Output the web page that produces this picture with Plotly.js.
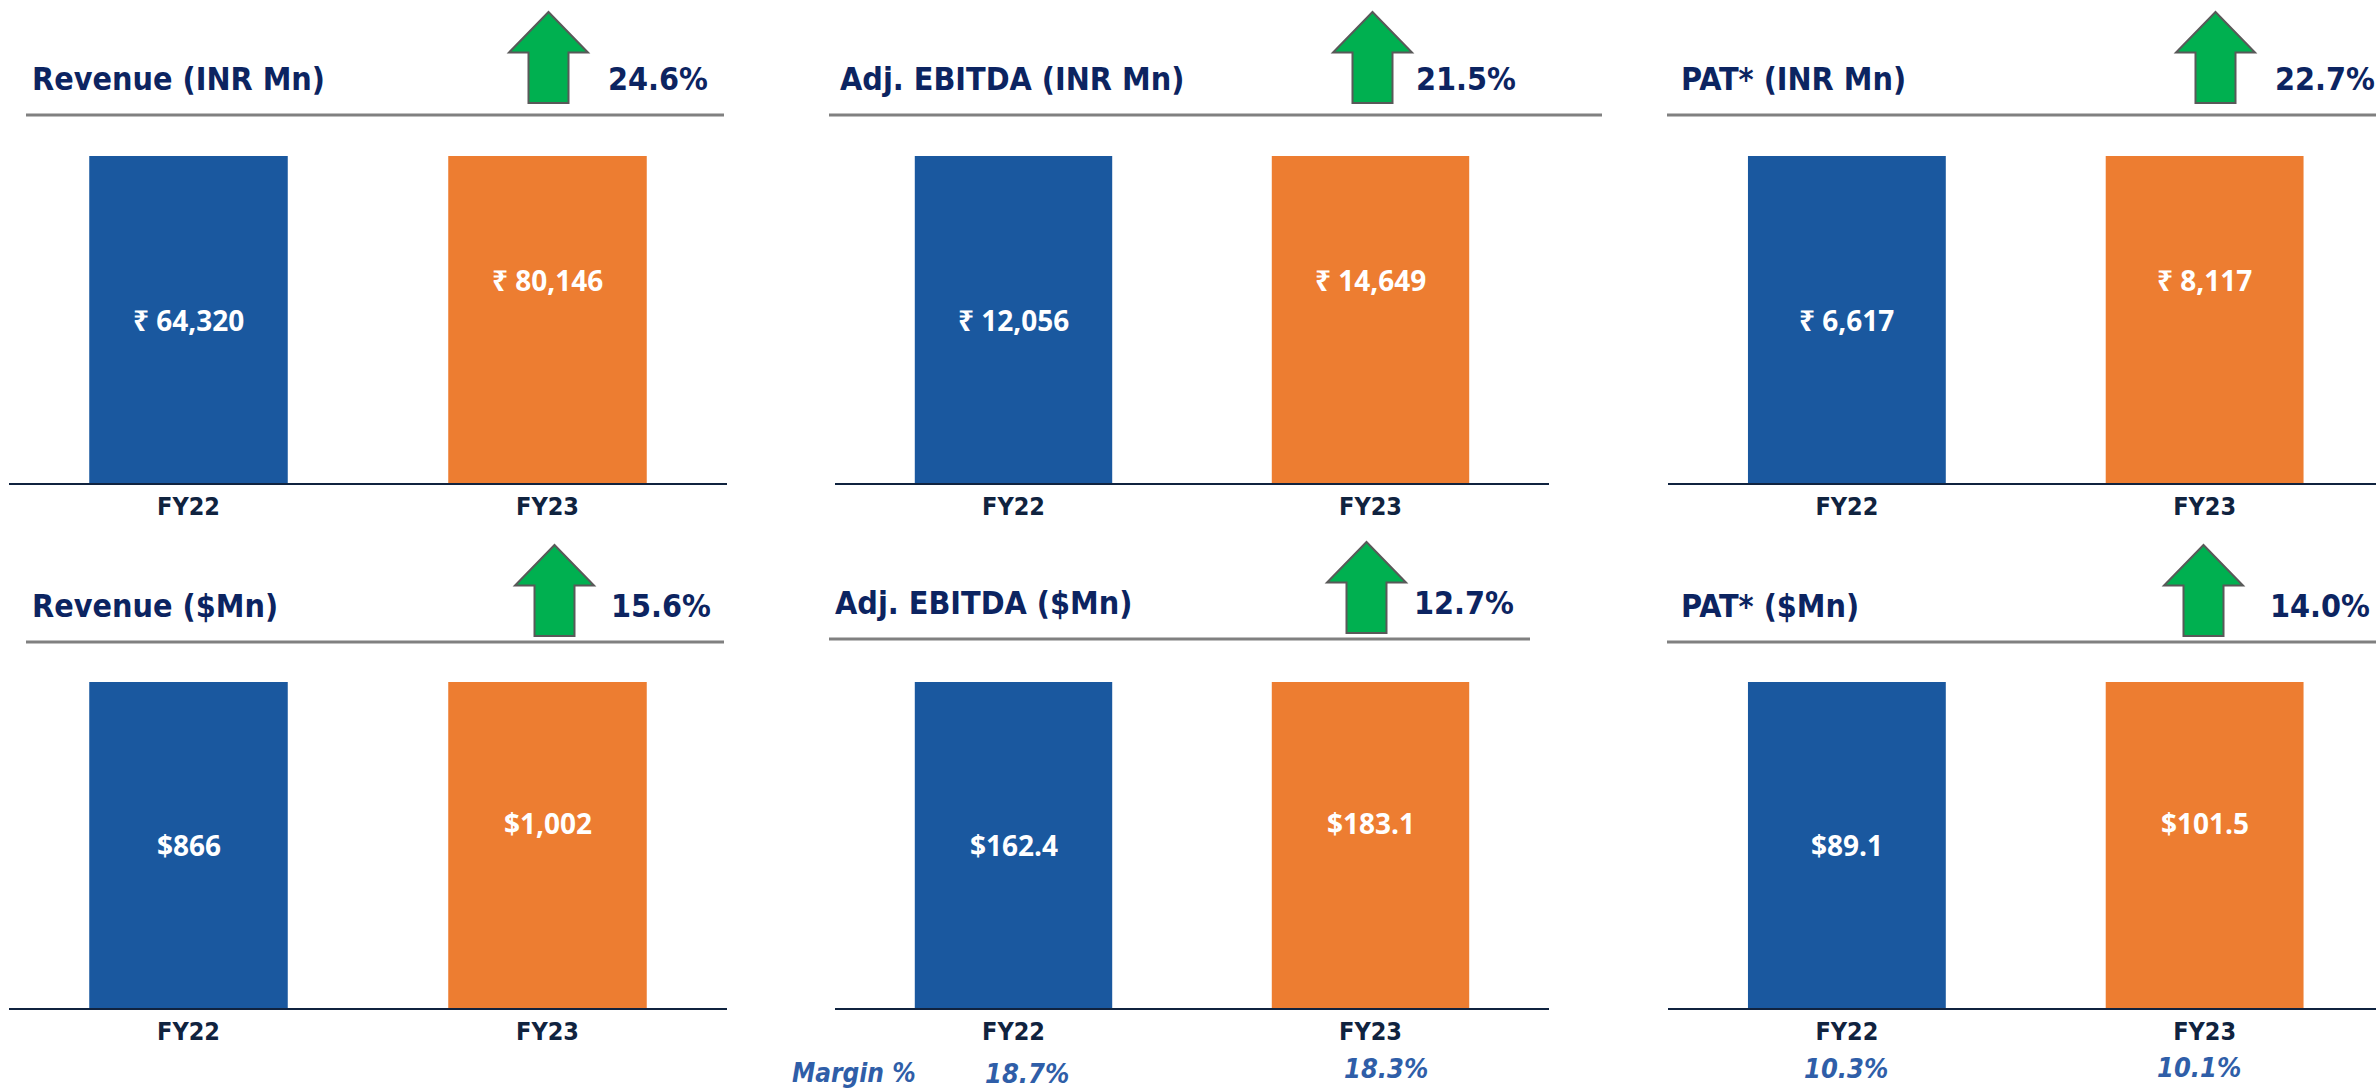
<!DOCTYPE html>
<html>
<head>
<meta charset="utf-8">
<script src="https://cdn.plot.ly/plotly-3.0.1.min.js"></script>
<style>
html,body{margin:0;padding:0;background:#fff;overflow:hidden}
#chart{width:2376px;height:1090px}
</style>
</head>
<body>
<div id="chart"></div>
<script>
// ---------------- data ----------------
const categories = ['FY22', 'FY23'];
const revenueInr = [64320, 80146];
const ebitdaInr = [12056, 14649];
const patInr = [6617, 8117];
const revenueUsd = [866, 1002];
const ebitdaUsd = [162.4, 183.1];
const patUsd = [89.1, 101.5];
const panelTitles = ['Revenue (INR Mn)', 'Adj. EBITDA (INR Mn)', 'PAT* (INR Mn)',
                     'Revenue ($Mn)', 'Adj. EBITDA ($Mn)', 'PAT* ($Mn)'];
const growthPct = [24.6, 21.5, 22.7, 15.6, 12.7, 14.0];
const ebitdaMarginPct = [18.7, 18.3];
const patMarginPct = [10.3, 10.1];
const marginLabel = 'Margin %';

// ---------------- styling / geometry ----------------
const W = 2376, H = 1090;
const px = x => x / W;
const py = y => 1 - y / H;

const NARROW = "'DejaVu Sans Condensed', 'Liberation Sans Narrow', 'Arial Narrow', sans-serif";
const LABELFONT = "'Open Sans', 'Noto Sans', 'DejaVu Sans', sans-serif";
const NAVY = '#0c2461';
const TICK = '#10233f';
const BLUE = '#1a589f';
const ORANGE = '#ed7d31';
const MARGIN_C = '#2f5ea8';

const panels = [
  {values: revenueInr, prefix: '₹ ', dec: 0},
  {values: ebitdaInr,  prefix: '₹ ', dec: 0},
  {values: patInr,     prefix: '₹ ', dec: 0},
  {values: revenueUsd, prefix: '$',  dec: 0},
  {values: ebitdaUsd,  prefix: '$',  dec: 1},
  {values: patUsd,     prefix: '$',  dec: 1}
];

const colX = [[9, 727], [835, 1549], [1668, 2376]];
const colRange = [[-0.5, 1.5], [-0.5, 1.5], [-0.5, 1.479]];
const rowY = [[156, 483], [682, 1008]];
const titlePos = [[30, 79], [838, 79], [1679, 79], [30, 606], [833, 603], [1679, 606]];
const pctPos = [[606, 79], [1414, 79], [2273, 79], [609, 606], [1412, 603], [2268, 606]];
const arrowPos = [[548.5, 12, 103], [1372.5, 12, 103], [2215.5, 12, 103],
                  [554.5, 545, 636], [1366.5, 542, 633], [2203.5, 545, 636]];
const rulePos = [[26, 724, 115], [829, 1602, 115], [1667, 2376, 115],
                 [26, 724, 642], [829, 1530, 639], [1667, 2376, 642]];
const labelFrac = [[0.5, 0.62], [0.5, 0.567]];
const marginTextPos = [[791, 1073]];
const marginValPos = [[1027, 1073], [1386, 1068], [1846, 1068], [2199, 1067]];

function fmt(v, prefix, dec) {
  return prefix + v.toLocaleString('en-US', {minimumFractionDigits: dec, maximumFractionDigits: dec});
}

const data = [];
const layout = {
  width: W, height: H,
  margin: {l: 0, r: 0, t: 0, b: 0, pad: 0},
  paper_bgcolor: '#ffffff', plot_bgcolor: '#ffffff',
  showlegend: false,
  annotations: [], shapes: []
};

panels.forEach((p, i) => {
  const row = Math.floor(i / 3), col = i % 3;
  const xName = i === 0 ? 'x' : 'x' + (i + 1);
  const yA = 2 * i + 1, yB = 2 * i + 2;
  const yAName = yA === 1 ? 'y' : 'y' + yA;
  const yBName = 'y' + yB;
  const colors = [BLUE, ORANGE];

  categories.forEach((c, k) => {
    data.push({
      type: 'bar',
      x: [c], y: [p.values[k]],
      xaxis: xName, yaxis: k === 0 ? yAName : yBName,
      width: 0.553,
      marker: {color: colors[k], line: {width: 0}},
      hoverinfo: 'x+y'
    });
    layout.annotations.push({
      xref: xName, yref: k === 0 ? yAName : yBName,
      x: c, y: p.values[k] * labelFrac[row][k],
      text: '<b>' + fmt(p.values[k], p.prefix, p.dec) + '</b>',
      showarrow: false,
      font: {family: LABELFONT, size: 28, color: '#ffffff'},
      xanchor: 'center', yanchor: 'middle'
    });
  });

  const xKey = i === 0 ? 'xaxis' : 'xaxis' + (i + 1);
  layout[xKey] = {
    domain: [px(colX[col][0]), px(colX[col][1])],
    anchor: yAName,
    type: 'category',
    categoryorder: 'array', categoryarray: categories,
    range: colRange[col],
    showline: true, linecolor: TICK, linewidth: 2,
    ticks: '', showgrid: false, zeroline: false,
    tickfont: {family: NARROW, size: 25, color: TICK, weight: 'bold'},
    fixedrange: true
  };
  const yCommon = {showgrid: false, zeroline: false, showline: false, showticklabels: false, ticks: '', fixedrange: true};
  layout[yA === 1 ? 'yaxis' : 'yaxis' + yA] = Object.assign({
    domain: [py(rowY[row][1]), py(rowY[row][0])],
    anchor: xName,
    range: [0, p.values[0]]
  }, yCommon);
  layout['yaxis' + yB] = Object.assign({
    overlaying: yAName,
    anchor: xName,
    range: [0, p.values[1]]
  }, yCommon);

  // panel title
  layout.annotations.push({
    xref: 'paper', yref: 'paper', x: px(titlePos[i][0]), y: py(titlePos[i][1]),
    text: '<b>' + panelTitles[i] + '</b>', showarrow: false,
    xanchor: 'left', yanchor: 'middle',
    font: {family: NARROW, size: 32, color: NAVY}
  });
  // growth %
  layout.annotations.push({
    xref: 'paper', yref: 'paper', x: px(pctPos[i][0]), y: py(pctPos[i][1]),
    text: '<b>' + growthPct[i].toFixed(1) + '%</b>', showarrow: false,
    xanchor: 'left', yanchor: 'middle',
    font: {family: NARROW, size: 32, color: NAVY}
  });
  // rule under title
  layout.shapes.push({
    type: 'line', xref: 'paper', yref: 'paper',
    x0: px(rulePos[i][0]), x1: px(rulePos[i][1]), y0: py(rulePos[i][2]), y1: py(rulePos[i][2]),
    line: {color: '#808080', width: 3}
  });
  // up arrow
  const [cx, top, bot] = arrowPos[i];
  const hb = top + 0.445 * (bot - top);
  const hw = 39.5, sw = 20;
  const pts = [[cx, top], [cx + hw, hb], [cx + sw, hb], [cx + sw, bot], [cx - sw, bot], [cx - sw, hb], [cx - hw, hb]];
  const path = 'M ' + pts.map(q => px(q[0]).toFixed(5) + ',' + py(q[1]).toFixed(5)).join(' L ') + ' Z';
  layout.shapes.push({
    type: 'path', xref: 'paper', yref: 'paper', path: path,
    fillcolor: '#00b050', line: {color: '#595959', width: 2}
  });
});

// margin row
layout.annotations.push({
  xref: 'paper', yref: 'paper', x: px(marginTextPos[0][0]), y: py(marginTextPos[0][1]),
  text: '<b><i>' + marginLabel + '</i></b>', showarrow: false,
  xanchor: 'left', yanchor: 'middle', borderpad: 0,
  font: {family: NARROW, size: 26, color: MARGIN_C}
});
const marginVals = ebitdaMarginPct.concat(patMarginPct);
marginVals.forEach((m, j) => {
  layout.annotations.push({
    xref: 'paper', yref: 'paper', x: px(marginValPos[j][0]), y: py(marginValPos[j][1]),
    text: '<b><i>' + m.toFixed(1) + '%</i></b>', showarrow: false,
    xanchor: 'center', yanchor: 'middle', borderpad: 0,
    font: {family: NARROW, size: 27, color: MARGIN_C}
  });
});

Plotly.newPlot('chart', data, layout, {displayModeBar: false, staticPlot: true});
</script>
</body>
</html>
